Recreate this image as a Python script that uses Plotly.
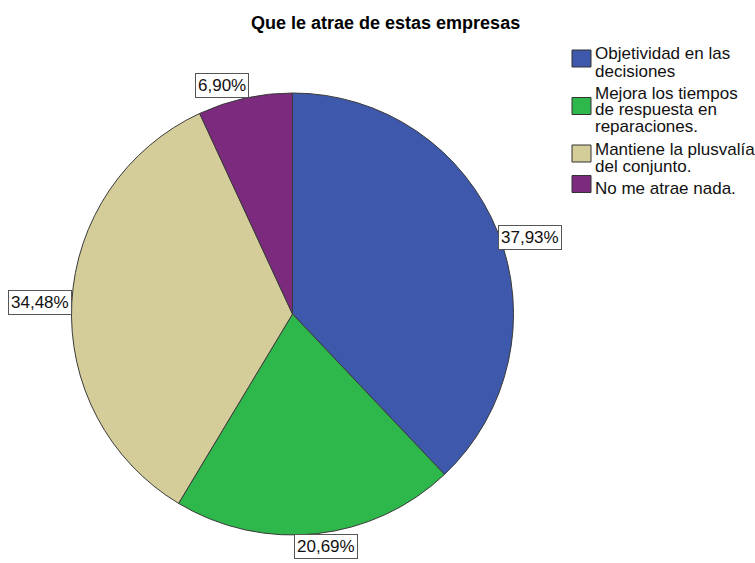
import math
import plotly.graph_objects as go

# Survey answers: "Que le atrae de estas empresas"
categories = [
    "Objetividad en las decisiones",
    "Mejora los tiempos de respuesta en reparaciones.",
    "Mantiene la plusvalía del conjunto.",
    "No me atrae nada.",
]
legend_lines = [
    ["Objetividad en las", "decisiones"],
    ["Mejora los tiempos", "de respuesta en", "reparaciones."],
    ["Mantiene la plusvalía", "del conjunto."],
    ["No me atrae nada."],
]
percentages = [37.93, 20.69, 34.48, 6.90]
colors = ["#3E58AC", "#2EB74A", "#D4CD99", "#7B2A7E"]

W, H = 755, 563
FONT = "Liberation Sans, Arial, sans-serif"

# pie geometry in pixels
CX, CY, R = 292.5, 314.0, 221.0


def px(x):
    return x / W


def py(y):
    return 1 - y / H


fig = go.Figure(
    go.Pie(
        labels=categories,
        values=percentages,
        marker=dict(colors=colors, line=dict(color="#3a3a3a", width=1)),
        sort=False,
        direction="clockwise",
        rotation=0,
        textinfo="none",
        hoverinfo="label+percent",
        showlegend=False,
        domain=dict(x=[px(CX - R), px(CX + R)], y=[py(CY + R), py(CY - R)]),
    )
)

annotations = []
shapes = []

# value labels in boxes at the rim of each slice
total = sum(percentages)
cum = 0.0
for v in percentages:
    mid = (cum + v / 2) / total * 2 * math.pi
    cum += v
    s, c = math.sin(mid), math.cos(mid)
    x = CX + R * s
    y = CY - R * c
    if c < -0.9:
        xa, ya = "center", "top"
        x += 10
    elif c > 0.9:
        xa, ya = "right", "bottom"
        x += 4
    elif s > 0:
        xa, ya = "left", "middle"
        y += 5
    else:
        xa, ya = "right", "middle"
    annotations.append(dict(
        x=px(x), y=py(y), xref="paper", yref="paper",
        text=f"{v:.2f}".replace(".", ",") + "%",
        showarrow=False, xanchor=xa, yanchor=ya,
        font=dict(family=FONT, size=17, color="#111111"),
        bgcolor="white", bordercolor="#555555", borderwidth=1, borderpad=2,
    ))

# title
annotations.append(dict(
    x=px(385), y=py(23), xref="paper", yref="paper",
    text="<b>Que le atrae de estas empresas</b>", showarrow=False,
    xanchor="center", yanchor="middle",
    font=dict(family=FONT, size=18, color="#000000"),
))

# legend: swatch + wrapped lines
LINE_H, GAP = 17, 5
y = 54
for lines, col in zip(legend_lines, colors):
    first = y
    for ln in lines:
        annotations.append(dict(
            x=px(593), y=py(y), xref="paper", yref="paper", text=ln,
            showarrow=False, xanchor="left", yanchor="middle",
            font=dict(family=FONT, size=17, color="#111111"),
        ))
        y += LINE_H
    last = y - LINE_H
    mid = (first + last) / 2 - 4
    shapes.append(dict(
        type="rect", xref="paper", yref="paper",
        x0=px(572), x1=px(591), y0=py(mid - 8.5), y1=py(mid + 8.5),
        fillcolor=col, line=dict(color="#333333", width=1),
    ))
    y += GAP

fig.update_layout(
    width=W, height=H,
    margin=dict(l=0, r=0, t=0, b=0),
    paper_bgcolor="white", plot_bgcolor="white",
    annotations=annotations, shapes=shapes,
)

fig.write_html("out.html")
